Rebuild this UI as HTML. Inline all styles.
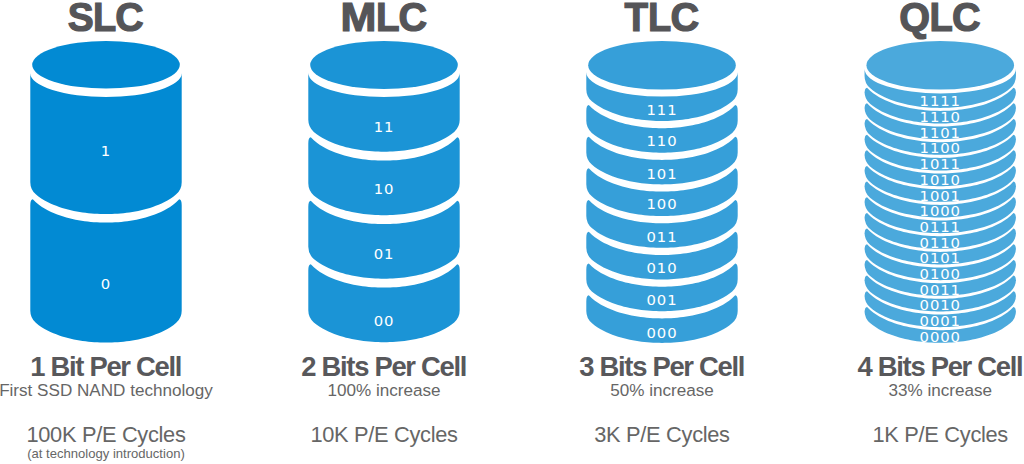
<!DOCTYPE html>
<html><head><meta charset="utf-8"><style>
html,body{margin:0;padding:0;background:#fff;}
body{width:1024px;height:464px;overflow:hidden;position:relative;}
svg{position:absolute;left:0;top:0;}
.bits{font-family:"DejaVu Sans",sans-serif;font-size:14.8px;fill:#fff;text-anchor:middle;letter-spacing:0.9px;}
.t{font-family:"Liberation Sans",Arial,sans-serif;font-weight:bold;font-size:40px;fill:#555558;stroke:#555558;stroke-width:1.2px;}
.l1{font-family:"Liberation Sans",Arial,sans-serif;font-weight:bold;font-size:27.4px;fill:#58585b;text-anchor:middle;letter-spacing:-1.3px;}
.l2{font-family:"Liberation Sans",Arial,sans-serif;font-size:17.1px;fill:#666;text-anchor:middle;}
.l3{font-family:"Liberation Sans",Arial,sans-serif;font-size:21.8px;fill:#666;text-anchor:middle;letter-spacing:-0.3px;}
.l4{font-family:"Liberation Sans",Arial,sans-serif;font-size:13.07px;fill:#666;text-anchor:middle;}
</style></head><body>
<svg width="1024" height="464" viewBox="0 0 1024 464">
<g fill="#028ad3"><path d="M30.3,73.2 A75.7,23.8 0 0 0 181.7,73.2 L181.7,182.26 Q181.7,189.54 176.2,194.32 L173.28,196.66 L170.35,198.68 L167.43,200.45 L164.5,202.02 L161.57,203.43 L158.65,204.71 L155.72,205.87 L152.8,206.92 L149.88,207.88 L146.95,208.74 L144.03,209.53 L141.1,210.25 L138.18,210.89 L135.25,211.47 L132.32,211.98 L129.4,212.44 L126.47,212.83 L123.55,213.17 L120.62,213.46 L117.7,213.69 L114.78,213.87 L111.85,214 L108.92,214.07 L106,214.1 L103.08,214.07 L100.15,214 L97.22,213.87 L94.3,213.69 L91.38,213.46 L88.45,213.17 L85.52,212.83 L82.6,212.44 L79.68,211.98 L76.75,211.47 L73.83,210.89 L70.9,210.25 L67.97,209.53 L65.05,208.74 L62.12,207.88 L59.2,206.92 L56.27,205.87 L53.35,204.71 L50.43,203.43 L47.5,202.02 L44.58,200.45 L41.65,198.68 L38.73,196.66 L35.8,194.32 Q30.3,189.54 30.3,182.26 Z"/><path d="M30.3,205.33 Q30.3,199.33 32.8,199.33 L35.85,202.35 L38.9,204.84 L41.95,206.97 L45,208.83 L48.05,210.49 L51.1,211.97 L54.15,213.3 L57.2,214.5 L60.25,215.59 L63.3,216.58 L66.35,217.47 L69.4,218.28 L72.45,219 L75.5,219.65 L78.55,220.23 L81.6,220.74 L84.65,221.19 L87.7,221.57 L90.75,221.88 L93.8,222.14 L96.85,222.34 L99.9,222.49 L102.95,222.57 L106,222.6 L109.05,222.57 L112.1,222.49 L115.15,222.34 L118.2,222.14 L121.25,221.88 L124.3,221.57 L127.35,221.19 L130.4,220.74 L133.45,220.23 L136.5,219.65 L139.55,219 L142.6,218.28 L145.65,217.47 L148.7,216.58 L151.75,215.59 L154.8,214.5 L157.85,213.3 L160.9,211.97 L163.95,210.49 L167,208.83 L170.05,206.97 L173.1,204.84 L176.15,202.35 L179.2,199.33 Q181.7,199.33 181.7,205.33 L181.7,310.76 Q181.7,318.04 176.2,322.82 L173.28,325.16 L170.35,327.18 L167.43,328.95 L164.5,330.52 L161.57,331.93 L158.65,333.21 L155.72,334.37 L152.8,335.42 L149.88,336.38 L146.95,337.24 L144.03,338.03 L141.1,338.75 L138.18,339.39 L135.25,339.97 L132.32,340.48 L129.4,340.94 L126.47,341.33 L123.55,341.67 L120.62,341.96 L117.7,342.19 L114.78,342.37 L111.85,342.5 L108.92,342.57 L106,342.6 L103.08,342.57 L100.15,342.5 L97.22,342.37 L94.3,342.19 L91.38,341.96 L88.45,341.67 L85.52,341.33 L82.6,340.94 L79.68,340.48 L76.75,339.97 L73.83,339.39 L70.9,338.75 L67.97,338.03 L65.05,337.24 L62.12,336.38 L59.2,335.42 L56.27,334.37 L53.35,333.21 L50.43,331.93 L47.5,330.52 L44.58,328.95 L41.65,327.18 L38.73,325.16 L35.8,322.82 Q30.3,318.04 30.3,310.76 Z"/><ellipse cx="106" cy="64.8" rx="73.8" ry="23.8"/></g>
<g class="bits"><text x="106" y="156.05">1</text><text x="106" y="289.25">0</text></g>
<g fill="#1b94d6"><path d="M308.3,73.1 A75.7,24 0 0 0 459.7,73.1 L459.7,119.86 Q459.7,127.14 454.2,131.92 L451.27,134.26 L448.35,136.28 L445.43,138.05 L442.5,139.62 L439.57,141.03 L436.65,142.31 L433.73,143.47 L430.8,144.52 L427.88,145.48 L424.95,146.34 L422.02,147.13 L419.1,147.85 L416.18,148.49 L413.25,149.07 L410.32,149.58 L407.4,150.04 L404.48,150.43 L401.55,150.77 L398.62,151.06 L395.7,151.29 L392.77,151.47 L389.85,151.6 L386.93,151.67 L384,151.7 L381.07,151.67 L378.15,151.6 L375.23,151.47 L372.3,151.29 L369.38,151.06 L366.45,150.77 L363.52,150.43 L360.6,150.04 L357.68,149.58 L354.75,149.07 L351.82,148.49 L348.9,147.85 L345.98,147.13 L343.05,146.34 L340.12,145.48 L337.2,144.52 L334.27,143.47 L331.35,142.31 L328.43,141.03 L325.5,139.62 L322.57,138.05 L319.65,136.28 L316.73,134.26 L313.8,131.92 Q308.3,127.14 308.3,119.86 Z"/><path d="M308.3,143.33 Q308.3,137.33 310.8,137.33 L313.85,140.35 L316.9,142.84 L319.95,144.97 L323,146.83 L326.05,148.49 L329.1,149.97 L332.15,151.3 L335.2,152.5 L338.25,153.59 L341.3,154.58 L344.35,155.47 L347.4,156.28 L350.45,157 L353.5,157.65 L356.55,158.23 L359.6,158.74 L362.65,159.19 L365.7,159.57 L368.75,159.88 L371.8,160.14 L374.85,160.34 L377.9,160.49 L380.95,160.57 L384,160.6 L387.05,160.57 L390.1,160.49 L393.15,160.34 L396.2,160.14 L399.25,159.88 L402.3,159.57 L405.35,159.19 L408.4,158.74 L411.45,158.23 L414.5,157.65 L417.55,157 L420.6,156.28 L423.65,155.47 L426.7,154.58 L429.75,153.59 L432.8,152.5 L435.85,151.3 L438.9,149.97 L441.95,148.49 L445,146.83 L448.05,144.97 L451.1,142.84 L454.15,140.35 L457.2,137.33 Q459.7,137.33 459.7,143.33 L459.7,183.36 Q459.7,190.64 454.2,195.42 L451.27,197.76 L448.35,199.78 L445.43,201.55 L442.5,203.12 L439.57,204.53 L436.65,205.81 L433.73,206.97 L430.8,208.02 L427.88,208.98 L424.95,209.84 L422.02,210.63 L419.1,211.35 L416.18,211.99 L413.25,212.57 L410.32,213.08 L407.4,213.54 L404.48,213.93 L401.55,214.27 L398.62,214.56 L395.7,214.79 L392.77,214.97 L389.85,215.1 L386.93,215.17 L384,215.2 L381.07,215.17 L378.15,215.1 L375.23,214.97 L372.3,214.79 L369.38,214.56 L366.45,214.27 L363.52,213.93 L360.6,213.54 L357.68,213.08 L354.75,212.57 L351.82,211.99 L348.9,211.35 L345.98,210.63 L343.05,209.84 L340.12,208.98 L337.2,208.02 L334.27,206.97 L331.35,205.81 L328.43,204.53 L325.5,203.12 L322.57,201.55 L319.65,199.78 L316.73,197.76 L313.8,195.42 Q308.3,190.64 308.3,183.36 Z"/><path d="M308.3,206.83 Q308.3,200.83 310.8,200.83 L313.85,203.85 L316.9,206.34 L319.95,208.47 L323,210.33 L326.05,211.99 L329.1,213.47 L332.15,214.8 L335.2,216 L338.25,217.09 L341.3,218.08 L344.35,218.97 L347.4,219.78 L350.45,220.5 L353.5,221.15 L356.55,221.73 L359.6,222.24 L362.65,222.69 L365.7,223.07 L368.75,223.38 L371.8,223.64 L374.85,223.84 L377.9,223.99 L380.95,224.07 L384,224.1 L387.05,224.07 L390.1,223.99 L393.15,223.84 L396.2,223.64 L399.25,223.38 L402.3,223.07 L405.35,222.69 L408.4,222.24 L411.45,221.73 L414.5,221.15 L417.55,220.5 L420.6,219.78 L423.65,218.97 L426.7,218.08 L429.75,217.09 L432.8,216 L435.85,214.8 L438.9,213.47 L441.95,211.99 L445,210.33 L448.05,208.47 L451.1,206.34 L454.15,203.85 L457.2,200.83 Q459.7,200.83 459.7,206.83 L459.7,246.86 Q459.7,254.14 454.2,258.92 L451.27,261.26 L448.35,263.28 L445.43,265.05 L442.5,266.62 L439.57,268.03 L436.65,269.31 L433.73,270.47 L430.8,271.52 L427.88,272.48 L424.95,273.34 L422.02,274.13 L419.1,274.85 L416.18,275.49 L413.25,276.07 L410.32,276.58 L407.4,277.04 L404.48,277.43 L401.55,277.77 L398.62,278.06 L395.7,278.29 L392.77,278.47 L389.85,278.6 L386.93,278.67 L384,278.7 L381.07,278.67 L378.15,278.6 L375.23,278.47 L372.3,278.29 L369.38,278.06 L366.45,277.77 L363.52,277.43 L360.6,277.04 L357.68,276.58 L354.75,276.07 L351.82,275.49 L348.9,274.85 L345.98,274.13 L343.05,273.34 L340.12,272.48 L337.2,271.52 L334.27,270.47 L331.35,269.31 L328.43,268.03 L325.5,266.62 L322.57,265.05 L319.65,263.28 L316.73,261.26 L313.8,258.92 Q308.3,254.14 308.3,246.86 Z"/><path d="M308.3,270.33 Q308.3,264.33 310.8,264.33 L313.85,267.35 L316.9,269.84 L319.95,271.97 L323,273.83 L326.05,275.49 L329.1,276.97 L332.15,278.3 L335.2,279.5 L338.25,280.59 L341.3,281.58 L344.35,282.47 L347.4,283.28 L350.45,284 L353.5,284.65 L356.55,285.23 L359.6,285.74 L362.65,286.19 L365.7,286.57 L368.75,286.88 L371.8,287.14 L374.85,287.34 L377.9,287.49 L380.95,287.57 L384,287.6 L387.05,287.57 L390.1,287.49 L393.15,287.34 L396.2,287.14 L399.25,286.88 L402.3,286.57 L405.35,286.19 L408.4,285.74 L411.45,285.23 L414.5,284.65 L417.55,284 L420.6,283.28 L423.65,282.47 L426.7,281.58 L429.75,280.59 L432.8,279.5 L435.85,278.3 L438.9,276.97 L441.95,275.49 L445,273.83 L448.05,271.97 L451.1,269.84 L454.15,267.35 L457.2,264.33 Q459.7,264.33 459.7,270.33 L459.7,310.36 Q459.7,317.64 454.2,322.42 L451.27,324.76 L448.35,326.78 L445.43,328.55 L442.5,330.12 L439.57,331.53 L436.65,332.81 L433.73,333.97 L430.8,335.02 L427.88,335.98 L424.95,336.84 L422.02,337.63 L419.1,338.35 L416.18,338.99 L413.25,339.57 L410.32,340.08 L407.4,340.54 L404.48,340.93 L401.55,341.27 L398.62,341.56 L395.7,341.79 L392.77,341.97 L389.85,342.1 L386.93,342.17 L384,342.2 L381.07,342.17 L378.15,342.1 L375.23,341.97 L372.3,341.79 L369.38,341.56 L366.45,341.27 L363.52,340.93 L360.6,340.54 L357.68,340.08 L354.75,339.57 L351.82,338.99 L348.9,338.35 L345.98,337.63 L343.05,336.84 L340.12,335.98 L337.2,335.02 L334.27,333.97 L331.35,332.81 L328.43,331.53 L325.5,330.12 L322.57,328.55 L319.65,326.78 L316.73,324.76 L313.8,322.42 Q308.3,317.64 308.3,310.36 Z"/><ellipse cx="384" cy="65" rx="73.8" ry="24"/></g>
<g class="bits"><text x="384" y="131.85">11</text><text x="384" y="194.25">10</text><text x="384" y="258.55">01</text><text x="384" y="325.55">00</text></g>
<g fill="#369fd9"><path d="M586.3,72.25 A75.7,24.25 0 0 0 737.7,72.25 L737.7,89.16 Q737.7,96.44 732.2,101.22 L729.27,103.56 L726.35,105.58 L723.42,107.35 L720.5,108.92 L717.58,110.33 L714.65,111.61 L711.73,112.77 L708.8,113.82 L705.88,114.78 L702.95,115.64 L700.02,116.43 L697.1,117.15 L694.17,117.79 L691.25,118.37 L688.33,118.88 L685.4,119.34 L682.48,119.73 L679.55,120.07 L676.62,120.36 L673.7,120.59 L670.77,120.77 L667.85,120.9 L664.92,120.97 L662,121 L659.08,120.97 L656.15,120.9 L653.23,120.77 L650.3,120.59 L647.38,120.36 L644.45,120.07 L641.52,119.73 L638.6,119.34 L635.67,118.88 L632.75,118.37 L629.83,117.79 L626.9,117.15 L623.98,116.43 L621.05,115.64 L618.12,114.78 L615.2,113.82 L612.27,112.77 L609.35,111.61 L606.42,110.33 L603.5,108.92 L600.58,107.35 L597.65,105.58 L594.73,103.56 L591.8,101.22 Q586.3,96.44 586.3,89.16 Z"/><path d="M586.3,110.93 Q586.3,104.93 588.8,104.93 L591.85,107.95 L594.9,110.44 L597.95,112.57 L601,114.43 L604.05,116.09 L607.1,117.57 L610.15,118.9 L613.2,120.1 L616.25,121.19 L619.3,122.18 L622.35,123.07 L625.4,123.88 L628.45,124.6 L631.5,125.25 L634.55,125.83 L637.6,126.34 L640.65,126.79 L643.7,127.17 L646.75,127.48 L649.8,127.74 L652.85,127.94 L655.9,128.09 L658.95,128.17 L662,128.2 L665.05,128.17 L668.1,128.09 L671.15,127.94 L674.2,127.74 L677.25,127.48 L680.3,127.17 L683.35,126.79 L686.4,126.34 L689.45,125.83 L692.5,125.25 L695.55,124.6 L698.6,123.88 L701.65,123.07 L704.7,122.18 L707.75,121.19 L710.8,120.1 L713.85,118.9 L716.9,117.57 L719.95,116.09 L723,114.43 L726.05,112.57 L729.1,110.44 L732.15,107.95 L735.2,104.93 Q737.7,104.93 737.7,110.93 L737.7,120.86 Q737.7,128.14 732.2,132.92 L729.27,135.26 L726.35,137.28 L723.42,139.05 L720.5,140.62 L717.58,142.03 L714.65,143.31 L711.73,144.47 L708.8,145.52 L705.88,146.48 L702.95,147.34 L700.02,148.13 L697.1,148.85 L694.17,149.49 L691.25,150.07 L688.33,150.58 L685.4,151.04 L682.48,151.43 L679.55,151.77 L676.62,152.06 L673.7,152.29 L670.77,152.47 L667.85,152.6 L664.92,152.67 L662,152.7 L659.08,152.67 L656.15,152.6 L653.23,152.47 L650.3,152.29 L647.38,152.06 L644.45,151.77 L641.52,151.43 L638.6,151.04 L635.67,150.58 L632.75,150.07 L629.83,149.49 L626.9,148.85 L623.98,148.13 L621.05,147.34 L618.12,146.48 L615.2,145.52 L612.27,144.47 L609.35,143.31 L606.42,142.03 L603.5,140.62 L600.58,139.05 L597.65,137.28 L594.73,135.26 L591.8,132.92 Q586.3,128.14 586.3,120.86 Z"/><path d="M586.3,142.63 Q586.3,136.63 588.8,136.63 L591.85,139.65 L594.9,142.14 L597.95,144.27 L601,146.13 L604.05,147.79 L607.1,149.27 L610.15,150.6 L613.2,151.8 L616.25,152.89 L619.3,153.88 L622.35,154.77 L625.4,155.58 L628.45,156.3 L631.5,156.95 L634.55,157.53 L637.6,158.04 L640.65,158.49 L643.7,158.87 L646.75,159.18 L649.8,159.44 L652.85,159.64 L655.9,159.79 L658.95,159.87 L662,159.9 L665.05,159.87 L668.1,159.79 L671.15,159.64 L674.2,159.44 L677.25,159.18 L680.3,158.87 L683.35,158.49 L686.4,158.04 L689.45,157.53 L692.5,156.95 L695.55,156.3 L698.6,155.58 L701.65,154.77 L704.7,153.88 L707.75,152.89 L710.8,151.8 L713.85,150.6 L716.9,149.27 L719.95,147.79 L723,146.13 L726.05,144.27 L729.1,142.14 L732.15,139.65 L735.2,136.63 Q737.7,136.63 737.7,142.63 L737.7,152.56 Q737.7,159.84 732.2,164.62 L729.27,166.96 L726.35,168.98 L723.42,170.75 L720.5,172.32 L717.58,173.73 L714.65,175.01 L711.73,176.17 L708.8,177.22 L705.88,178.18 L702.95,179.04 L700.02,179.83 L697.1,180.55 L694.17,181.19 L691.25,181.77 L688.33,182.28 L685.4,182.74 L682.48,183.13 L679.55,183.47 L676.62,183.76 L673.7,183.99 L670.77,184.17 L667.85,184.3 L664.92,184.37 L662,184.4 L659.08,184.37 L656.15,184.3 L653.23,184.17 L650.3,183.99 L647.38,183.76 L644.45,183.47 L641.52,183.13 L638.6,182.74 L635.67,182.28 L632.75,181.77 L629.83,181.19 L626.9,180.55 L623.98,179.83 L621.05,179.04 L618.12,178.18 L615.2,177.22 L612.27,176.17 L609.35,175.01 L606.42,173.73 L603.5,172.32 L600.58,170.75 L597.65,168.98 L594.73,166.96 L591.8,164.62 Q586.3,159.84 586.3,152.56 Z"/><path d="M586.3,174.33 Q586.3,168.33 588.8,168.33 L591.85,171.35 L594.9,173.84 L597.95,175.97 L601,177.83 L604.05,179.49 L607.1,180.97 L610.15,182.3 L613.2,183.5 L616.25,184.59 L619.3,185.58 L622.35,186.47 L625.4,187.28 L628.45,188 L631.5,188.65 L634.55,189.23 L637.6,189.74 L640.65,190.19 L643.7,190.57 L646.75,190.88 L649.8,191.14 L652.85,191.34 L655.9,191.49 L658.95,191.57 L662,191.6 L665.05,191.57 L668.1,191.49 L671.15,191.34 L674.2,191.14 L677.25,190.88 L680.3,190.57 L683.35,190.19 L686.4,189.74 L689.45,189.23 L692.5,188.65 L695.55,188 L698.6,187.28 L701.65,186.47 L704.7,185.58 L707.75,184.59 L710.8,183.5 L713.85,182.3 L716.9,180.97 L719.95,179.49 L723,177.83 L726.05,175.97 L729.1,173.84 L732.15,171.35 L735.2,168.33 Q737.7,168.33 737.7,174.33 L737.7,184.26 Q737.7,191.54 732.2,196.32 L729.27,198.66 L726.35,200.68 L723.42,202.45 L720.5,204.02 L717.58,205.43 L714.65,206.71 L711.73,207.87 L708.8,208.92 L705.88,209.88 L702.95,210.74 L700.02,211.53 L697.1,212.25 L694.17,212.89 L691.25,213.47 L688.33,213.98 L685.4,214.44 L682.48,214.83 L679.55,215.17 L676.62,215.46 L673.7,215.69 L670.77,215.87 L667.85,216 L664.92,216.07 L662,216.1 L659.08,216.07 L656.15,216 L653.23,215.87 L650.3,215.69 L647.38,215.46 L644.45,215.17 L641.52,214.83 L638.6,214.44 L635.67,213.98 L632.75,213.47 L629.83,212.89 L626.9,212.25 L623.98,211.53 L621.05,210.74 L618.12,209.88 L615.2,208.92 L612.27,207.87 L609.35,206.71 L606.42,205.43 L603.5,204.02 L600.58,202.45 L597.65,200.68 L594.73,198.66 L591.8,196.32 Q586.3,191.54 586.3,184.26 Z"/><path d="M586.3,206.03 Q586.3,200.03 588.8,200.03 L591.85,203.05 L594.9,205.54 L597.95,207.67 L601,209.53 L604.05,211.19 L607.1,212.67 L610.15,214 L613.2,215.2 L616.25,216.29 L619.3,217.28 L622.35,218.17 L625.4,218.98 L628.45,219.7 L631.5,220.35 L634.55,220.93 L637.6,221.44 L640.65,221.89 L643.7,222.27 L646.75,222.58 L649.8,222.84 L652.85,223.04 L655.9,223.19 L658.95,223.27 L662,223.3 L665.05,223.27 L668.1,223.19 L671.15,223.04 L674.2,222.84 L677.25,222.58 L680.3,222.27 L683.35,221.89 L686.4,221.44 L689.45,220.93 L692.5,220.35 L695.55,219.7 L698.6,218.98 L701.65,218.17 L704.7,217.28 L707.75,216.29 L710.8,215.2 L713.85,214 L716.9,212.67 L719.95,211.19 L723,209.53 L726.05,207.67 L729.1,205.54 L732.15,203.05 L735.2,200.03 Q737.7,200.03 737.7,206.03 L737.7,215.96 Q737.7,223.24 732.2,228.02 L729.27,230.36 L726.35,232.38 L723.42,234.15 L720.5,235.72 L717.58,237.13 L714.65,238.41 L711.73,239.57 L708.8,240.62 L705.88,241.58 L702.95,242.44 L700.02,243.23 L697.1,243.95 L694.17,244.59 L691.25,245.17 L688.33,245.68 L685.4,246.14 L682.48,246.53 L679.55,246.87 L676.62,247.16 L673.7,247.39 L670.77,247.57 L667.85,247.7 L664.92,247.77 L662,247.8 L659.08,247.77 L656.15,247.7 L653.23,247.57 L650.3,247.39 L647.38,247.16 L644.45,246.87 L641.52,246.53 L638.6,246.14 L635.67,245.68 L632.75,245.17 L629.83,244.59 L626.9,243.95 L623.98,243.23 L621.05,242.44 L618.12,241.58 L615.2,240.62 L612.27,239.57 L609.35,238.41 L606.42,237.13 L603.5,235.72 L600.58,234.15 L597.65,232.38 L594.73,230.36 L591.8,228.02 Q586.3,223.24 586.3,215.96 Z"/><path d="M586.3,237.73 Q586.3,231.73 588.8,231.73 L591.85,234.75 L594.9,237.24 L597.95,239.37 L601,241.23 L604.05,242.89 L607.1,244.37 L610.15,245.7 L613.2,246.9 L616.25,247.99 L619.3,248.98 L622.35,249.87 L625.4,250.68 L628.45,251.4 L631.5,252.05 L634.55,252.63 L637.6,253.14 L640.65,253.59 L643.7,253.97 L646.75,254.28 L649.8,254.54 L652.85,254.74 L655.9,254.89 L658.95,254.97 L662,255 L665.05,254.97 L668.1,254.89 L671.15,254.74 L674.2,254.54 L677.25,254.28 L680.3,253.97 L683.35,253.59 L686.4,253.14 L689.45,252.63 L692.5,252.05 L695.55,251.4 L698.6,250.68 L701.65,249.87 L704.7,248.98 L707.75,247.99 L710.8,246.9 L713.85,245.7 L716.9,244.37 L719.95,242.89 L723,241.23 L726.05,239.37 L729.1,237.24 L732.15,234.75 L735.2,231.73 Q737.7,231.73 737.7,237.73 L737.7,247.66 Q737.7,254.94 732.2,259.72 L729.27,262.06 L726.35,264.08 L723.42,265.85 L720.5,267.42 L717.58,268.83 L714.65,270.11 L711.73,271.27 L708.8,272.32 L705.88,273.28 L702.95,274.14 L700.02,274.93 L697.1,275.65 L694.17,276.29 L691.25,276.87 L688.33,277.38 L685.4,277.84 L682.48,278.23 L679.55,278.57 L676.62,278.86 L673.7,279.09 L670.77,279.27 L667.85,279.4 L664.92,279.47 L662,279.5 L659.08,279.47 L656.15,279.4 L653.23,279.27 L650.3,279.09 L647.38,278.86 L644.45,278.57 L641.52,278.23 L638.6,277.84 L635.67,277.38 L632.75,276.87 L629.83,276.29 L626.9,275.65 L623.98,274.93 L621.05,274.14 L618.12,273.28 L615.2,272.32 L612.27,271.27 L609.35,270.11 L606.42,268.83 L603.5,267.42 L600.58,265.85 L597.65,264.08 L594.73,262.06 L591.8,259.72 Q586.3,254.94 586.3,247.66 Z"/><path d="M586.3,269.43 Q586.3,263.43 588.8,263.43 L591.85,266.45 L594.9,268.94 L597.95,271.07 L601,272.93 L604.05,274.59 L607.1,276.07 L610.15,277.4 L613.2,278.6 L616.25,279.69 L619.3,280.68 L622.35,281.57 L625.4,282.38 L628.45,283.1 L631.5,283.75 L634.55,284.33 L637.6,284.84 L640.65,285.29 L643.7,285.67 L646.75,285.98 L649.8,286.24 L652.85,286.44 L655.9,286.59 L658.95,286.67 L662,286.7 L665.05,286.67 L668.1,286.59 L671.15,286.44 L674.2,286.24 L677.25,285.98 L680.3,285.67 L683.35,285.29 L686.4,284.84 L689.45,284.33 L692.5,283.75 L695.55,283.1 L698.6,282.38 L701.65,281.57 L704.7,280.68 L707.75,279.69 L710.8,278.6 L713.85,277.4 L716.9,276.07 L719.95,274.59 L723,272.93 L726.05,271.07 L729.1,268.94 L732.15,266.45 L735.2,263.43 Q737.7,263.43 737.7,269.43 L737.7,279.36 Q737.7,286.64 732.2,291.42 L729.27,293.76 L726.35,295.78 L723.42,297.55 L720.5,299.12 L717.58,300.53 L714.65,301.81 L711.73,302.97 L708.8,304.02 L705.88,304.98 L702.95,305.84 L700.02,306.63 L697.1,307.35 L694.17,307.99 L691.25,308.57 L688.33,309.08 L685.4,309.54 L682.48,309.93 L679.55,310.27 L676.62,310.56 L673.7,310.79 L670.77,310.97 L667.85,311.1 L664.92,311.17 L662,311.2 L659.08,311.17 L656.15,311.1 L653.23,310.97 L650.3,310.79 L647.38,310.56 L644.45,310.27 L641.52,309.93 L638.6,309.54 L635.67,309.08 L632.75,308.57 L629.83,307.99 L626.9,307.35 L623.98,306.63 L621.05,305.84 L618.12,304.98 L615.2,304.02 L612.27,302.97 L609.35,301.81 L606.42,300.53 L603.5,299.12 L600.58,297.55 L597.65,295.78 L594.73,293.76 L591.8,291.42 Q586.3,286.64 586.3,279.36 Z"/><path d="M586.3,301.13 Q586.3,295.13 588.8,295.13 L591.85,298.15 L594.9,300.64 L597.95,302.77 L601,304.63 L604.05,306.29 L607.1,307.77 L610.15,309.1 L613.2,310.3 L616.25,311.39 L619.3,312.38 L622.35,313.27 L625.4,314.08 L628.45,314.8 L631.5,315.45 L634.55,316.03 L637.6,316.54 L640.65,316.99 L643.7,317.37 L646.75,317.68 L649.8,317.94 L652.85,318.14 L655.9,318.29 L658.95,318.37 L662,318.4 L665.05,318.37 L668.1,318.29 L671.15,318.14 L674.2,317.94 L677.25,317.68 L680.3,317.37 L683.35,316.99 L686.4,316.54 L689.45,316.03 L692.5,315.45 L695.55,314.8 L698.6,314.08 L701.65,313.27 L704.7,312.38 L707.75,311.39 L710.8,310.3 L713.85,309.1 L716.9,307.77 L719.95,306.29 L723,304.63 L726.05,302.77 L729.1,300.64 L732.15,298.15 L735.2,295.13 Q737.7,295.13 737.7,301.13 L737.7,311.06 Q737.7,318.34 732.2,323.12 L729.27,325.46 L726.35,327.48 L723.42,329.25 L720.5,330.82 L717.58,332.23 L714.65,333.51 L711.73,334.67 L708.8,335.72 L705.88,336.68 L702.95,337.54 L700.02,338.33 L697.1,339.05 L694.17,339.69 L691.25,340.27 L688.33,340.78 L685.4,341.24 L682.48,341.63 L679.55,341.97 L676.62,342.26 L673.7,342.49 L670.77,342.67 L667.85,342.8 L664.92,342.87 L662,342.9 L659.08,342.87 L656.15,342.8 L653.23,342.67 L650.3,342.49 L647.38,342.26 L644.45,341.97 L641.52,341.63 L638.6,341.24 L635.67,340.78 L632.75,340.27 L629.83,339.69 L626.9,339.05 L623.98,338.33 L621.05,337.54 L618.12,336.68 L615.2,335.72 L612.27,334.67 L609.35,333.51 L606.42,332.23 L603.5,330.82 L600.58,329.25 L597.65,327.48 L594.73,325.46 L591.8,323.12 Q586.3,318.34 586.3,311.06 Z"/><ellipse cx="662" cy="65.25" rx="73.8" ry="24.25"/></g>
<g class="bits"><text x="662" y="114.85">111</text><text x="662" y="146.45">110</text><text x="662" y="178.55">101</text><text x="662" y="208.85">100</text><text x="662" y="241.75">011</text><text x="662" y="273.05">010</text><text x="662" y="305.15">001</text><text x="662" y="338.15">000</text></g>
<g fill="#4ba9dc"><path d="M864.55,69.1 A75.7,24.3 0 0 0 1015.95,69.1 L1015.95,76.06 Q1015.95,83.34 1010.45,88.12 L1007.52,90.46 L1004.6,92.48 L1001.67,94.25 L998.75,95.82 L995.83,97.23 L992.9,98.51 L989.98,99.67 L987.05,100.72 L984.12,101.68 L981.2,102.54 L978.27,103.33 L975.35,104.05 L972.42,104.69 L969.5,105.27 L966.58,105.78 L963.65,106.24 L960.73,106.63 L957.8,106.97 L954.88,107.26 L951.95,107.49 L949.02,107.67 L946.1,107.8 L943.17,107.87 L940.25,107.9 L937.33,107.87 L934.4,107.8 L931.48,107.67 L928.55,107.49 L925.62,107.26 L922.7,106.97 L919.77,106.63 L916.85,106.24 L913.92,105.78 L911,105.27 L908.08,104.69 L905.15,104.05 L902.23,103.33 L899.3,102.54 L896.38,101.68 L893.45,100.72 L890.52,99.67 L887.6,98.51 L884.67,97.23 L881.75,95.82 L878.83,94.25 L875.9,92.48 L872.98,90.46 L870.05,88.12 Q864.55,83.34 864.55,76.06 Z"/><path d="M864.55,93.63 Q864.55,87.63 867.05,87.63 L870.1,90.65 L873.15,93.14 L876.2,95.27 L879.25,97.13 L882.3,98.79 L885.35,100.27 L888.4,101.6 L891.45,102.8 L894.5,103.89 L897.55,104.88 L900.6,105.77 L903.65,106.58 L906.7,107.3 L909.75,107.95 L912.8,108.53 L915.85,109.04 L918.9,109.49 L921.95,109.87 L925,110.18 L928.05,110.44 L931.1,110.64 L934.15,110.79 L937.2,110.87 L940.25,110.9 L943.3,110.87 L946.35,110.79 L949.4,110.64 L952.45,110.44 L955.5,110.18 L958.55,109.87 L961.6,109.49 L964.65,109.04 L967.7,108.53 L970.75,107.95 L973.8,107.3 L976.85,106.58 L979.9,105.77 L982.95,104.88 L986,103.89 L989.05,102.8 L992.1,101.6 L995.15,100.27 L998.2,98.79 L1001.25,97.13 L1004.3,95.27 L1007.35,93.14 L1010.4,90.65 L1013.45,87.63 Q1015.95,87.63 1015.95,93.63 L1015.95,91.66 Q1015.95,98.94 1010.45,103.72 L1007.52,106.06 L1004.6,108.08 L1001.67,109.85 L998.75,111.42 L995.83,112.83 L992.9,114.11 L989.98,115.27 L987.05,116.32 L984.12,117.28 L981.2,118.14 L978.27,118.93 L975.35,119.65 L972.42,120.29 L969.5,120.87 L966.58,121.38 L963.65,121.84 L960.73,122.23 L957.8,122.57 L954.88,122.86 L951.95,123.09 L949.02,123.27 L946.1,123.4 L943.17,123.47 L940.25,123.5 L937.33,123.47 L934.4,123.4 L931.48,123.27 L928.55,123.09 L925.62,122.86 L922.7,122.57 L919.77,122.23 L916.85,121.84 L913.92,121.38 L911,120.87 L908.08,120.29 L905.15,119.65 L902.23,118.93 L899.3,118.14 L896.38,117.28 L893.45,116.32 L890.52,115.27 L887.6,114.11 L884.67,112.83 L881.75,111.42 L878.83,109.85 L875.9,108.08 L872.98,106.06 L870.05,103.72 Q864.55,98.94 864.55,91.66 Z"/><path d="M864.55,109.3 Q864.55,103.3 867.05,103.3 L870.1,106.31 L873.15,108.8 L876.2,110.93 L879.25,112.8 L882.3,114.45 L885.35,115.93 L888.4,117.26 L891.45,118.47 L894.5,119.56 L897.55,120.54 L900.6,121.44 L903.65,122.24 L906.7,122.97 L909.75,123.62 L912.8,124.2 L915.85,124.71 L918.9,125.15 L921.95,125.53 L925,125.85 L928.05,126.11 L931.1,126.31 L934.15,126.45 L937.2,126.54 L940.25,126.56 L943.3,126.54 L946.35,126.45 L949.4,126.31 L952.45,126.11 L955.5,125.85 L958.55,125.53 L961.6,125.15 L964.65,124.71 L967.7,124.2 L970.75,123.62 L973.8,122.97 L976.85,122.24 L979.9,121.44 L982.95,120.54 L986,119.56 L989.05,118.47 L992.1,117.26 L995.15,115.93 L998.2,114.45 L1001.25,112.8 L1004.3,110.93 L1007.35,108.8 L1010.4,106.31 L1013.45,103.3 Q1015.95,103.3 1015.95,109.3 L1015.95,107.32 Q1015.95,114.61 1010.45,119.39 L1007.52,121.73 L1004.6,123.74 L1001.67,125.51 L998.75,127.08 L995.83,128.5 L992.9,129.77 L989.98,130.93 L987.05,131.98 L984.12,132.94 L981.2,133.81 L978.27,134.6 L975.35,135.31 L972.42,135.96 L969.5,136.53 L966.58,137.05 L963.65,137.5 L960.73,137.9 L957.8,138.24 L954.88,138.52 L951.95,138.76 L949.02,138.93 L946.1,139.06 L943.17,139.14 L940.25,139.16 L937.33,139.14 L934.4,139.06 L931.48,138.93 L928.55,138.76 L925.62,138.52 L922.7,138.24 L919.77,137.9 L916.85,137.5 L913.92,137.05 L911,136.53 L908.08,135.96 L905.15,135.31 L902.23,134.6 L899.3,133.81 L896.38,132.94 L893.45,131.98 L890.52,130.93 L887.6,129.77 L884.67,128.5 L881.75,127.08 L878.83,125.51 L875.9,123.74 L872.98,121.73 L870.05,119.39 Q864.55,114.61 864.55,107.32 Z"/><path d="M864.55,124.96 Q864.55,118.96 867.05,118.96 L870.1,121.98 L873.15,124.46 L876.2,126.6 L879.25,128.46 L882.3,130.11 L885.35,131.6 L888.4,132.93 L891.45,134.13 L894.5,135.22 L897.55,136.21 L900.6,137.1 L903.65,137.91 L906.7,138.63 L909.75,139.28 L912.8,139.86 L915.85,140.37 L918.9,140.81 L921.95,141.19 L925,141.51 L928.05,141.77 L931.1,141.97 L934.15,142.11 L937.2,142.2 L940.25,142.23 L943.3,142.2 L946.35,142.11 L949.4,141.97 L952.45,141.77 L955.5,141.51 L958.55,141.19 L961.6,140.81 L964.65,140.37 L967.7,139.86 L970.75,139.28 L973.8,138.63 L976.85,137.91 L979.9,137.1 L982.95,136.21 L986,135.22 L989.05,134.13 L992.1,132.93 L995.15,131.6 L998.2,130.11 L1001.25,128.46 L1004.3,126.6 L1007.35,124.46 L1010.4,121.98 L1013.45,118.96 Q1015.95,118.96 1015.95,124.96 L1015.95,122.98 Q1015.95,130.27 1010.45,135.05 L1007.52,137.39 L1004.6,139.4 L1001.67,141.17 L998.75,142.75 L995.83,144.16 L992.9,145.44 L989.98,146.6 L987.05,147.65 L984.12,148.6 L981.2,149.47 L978.27,150.26 L975.35,150.98 L972.42,151.62 L969.5,152.2 L966.58,152.71 L963.65,153.17 L960.73,153.56 L957.8,153.9 L954.88,154.19 L951.95,154.42 L949.02,154.6 L946.1,154.73 L943.17,154.8 L940.25,154.83 L937.33,154.8 L934.4,154.73 L931.48,154.6 L928.55,154.42 L925.62,154.19 L922.7,153.9 L919.77,153.56 L916.85,153.17 L913.92,152.71 L911,152.2 L908.08,151.62 L905.15,150.98 L902.23,150.26 L899.3,149.47 L896.38,148.6 L893.45,147.65 L890.52,146.6 L887.6,145.44 L884.67,144.16 L881.75,142.75 L878.83,141.17 L875.9,139.4 L872.98,137.39 L870.05,135.05 Q864.55,130.27 864.55,122.98 Z"/><path d="M864.55,140.63 Q864.55,134.63 867.05,134.63 L870.1,137.64 L873.15,140.13 L876.2,142.26 L879.25,144.12 L882.3,145.78 L885.35,147.26 L888.4,148.59 L891.45,149.8 L894.5,150.89 L897.55,151.87 L900.6,152.76 L903.65,153.57 L906.7,154.3 L909.75,154.95 L912.8,155.52 L915.85,156.03 L918.9,156.48 L921.95,156.86 L925,157.18 L928.05,157.44 L931.1,157.64 L934.15,157.78 L937.2,157.86 L940.25,157.89 L943.3,157.86 L946.35,157.78 L949.4,157.64 L952.45,157.44 L955.5,157.18 L958.55,156.86 L961.6,156.48 L964.65,156.03 L967.7,155.52 L970.75,154.95 L973.8,154.3 L976.85,153.57 L979.9,152.76 L982.95,151.87 L986,150.89 L989.05,149.8 L992.1,148.59 L995.15,147.26 L998.2,145.78 L1001.25,144.12 L1004.3,142.26 L1007.35,140.13 L1010.4,137.64 L1013.45,134.63 Q1015.95,134.63 1015.95,140.63 L1015.95,138.65 Q1015.95,145.94 1010.45,150.72 L1007.52,153.06 L1004.6,155.07 L1001.67,156.84 L998.75,158.41 L995.83,159.83 L992.9,161.1 L989.98,162.26 L987.05,163.31 L984.12,164.27 L981.2,165.14 L978.27,165.93 L975.35,166.64 L972.42,167.28 L969.5,167.86 L966.58,168.38 L963.65,168.83 L960.73,169.23 L957.8,169.57 L954.88,169.85 L951.95,170.08 L949.02,170.26 L946.1,170.39 L943.17,170.47 L940.25,170.49 L937.33,170.47 L934.4,170.39 L931.48,170.26 L928.55,170.08 L925.62,169.85 L922.7,169.57 L919.77,169.23 L916.85,168.83 L913.92,168.38 L911,167.86 L908.08,167.28 L905.15,166.64 L902.23,165.93 L899.3,165.14 L896.38,164.27 L893.45,163.31 L890.52,162.26 L887.6,161.1 L884.67,159.83 L881.75,158.41 L878.83,156.84 L875.9,155.07 L872.98,153.06 L870.05,150.72 Q864.55,145.94 864.55,138.65 Z"/><path d="M864.55,156.29 Q864.55,150.29 867.05,150.29 L870.1,153.3 L873.15,155.79 L876.2,157.92 L879.25,159.79 L882.3,161.44 L885.35,162.92 L888.4,164.26 L891.45,165.46 L894.5,166.55 L897.55,167.54 L900.6,168.43 L903.65,169.24 L906.7,169.96 L909.75,170.61 L912.8,171.19 L915.85,171.7 L918.9,172.14 L921.95,172.52 L925,172.84 L928.05,173.1 L931.1,173.3 L934.15,173.44 L937.2,173.53 L940.25,173.56 L943.3,173.53 L946.35,173.44 L949.4,173.3 L952.45,173.1 L955.5,172.84 L958.55,172.52 L961.6,172.14 L964.65,171.7 L967.7,171.19 L970.75,170.61 L973.8,169.96 L976.85,169.24 L979.9,168.43 L982.95,167.54 L986,166.55 L989.05,165.46 L992.1,164.26 L995.15,162.92 L998.2,161.44 L1001.25,159.79 L1004.3,157.92 L1007.35,155.79 L1010.4,153.3 L1013.45,150.29 Q1015.95,150.29 1015.95,156.29 L1015.95,154.31 Q1015.95,161.6 1010.45,166.38 L1007.52,168.72 L1004.6,170.73 L1001.67,172.5 L998.75,174.08 L995.83,175.49 L992.9,176.77 L989.98,177.92 L987.05,178.98 L984.12,179.93 L981.2,180.8 L978.27,181.59 L975.35,182.3 L972.42,182.95 L969.5,183.52 L966.58,184.04 L963.65,184.49 L960.73,184.89 L957.8,185.23 L954.88,185.52 L951.95,185.75 L949.02,185.93 L946.1,186.05 L943.17,186.13 L940.25,186.16 L937.33,186.13 L934.4,186.05 L931.48,185.93 L928.55,185.75 L925.62,185.52 L922.7,185.23 L919.77,184.89 L916.85,184.49 L913.92,184.04 L911,183.52 L908.08,182.95 L905.15,182.3 L902.23,181.59 L899.3,180.8 L896.38,179.93 L893.45,178.98 L890.52,177.92 L887.6,176.77 L884.67,175.49 L881.75,174.08 L878.83,172.5 L875.9,170.73 L872.98,168.72 L870.05,166.38 Q864.55,161.6 864.55,154.31 Z"/><path d="M864.55,171.95 Q864.55,165.95 867.05,165.95 L870.1,168.97 L873.15,171.46 L876.2,173.59 L879.25,175.45 L882.3,177.11 L885.35,178.59 L888.4,179.92 L891.45,181.12 L894.5,182.21 L897.55,183.2 L900.6,184.09 L903.65,184.9 L906.7,185.62 L909.75,186.27 L912.8,186.85 L915.85,187.36 L918.9,187.81 L921.95,188.19 L925,188.5 L928.05,188.76 L931.1,188.96 L934.15,189.11 L937.2,189.19 L940.25,189.22 L943.3,189.19 L946.35,189.11 L949.4,188.96 L952.45,188.76 L955.5,188.5 L958.55,188.19 L961.6,187.81 L964.65,187.36 L967.7,186.85 L970.75,186.27 L973.8,185.62 L976.85,184.9 L979.9,184.09 L982.95,183.2 L986,182.21 L989.05,181.12 L992.1,179.92 L995.15,178.59 L998.2,177.11 L1001.25,175.45 L1004.3,173.59 L1007.35,171.46 L1010.4,168.97 L1013.45,165.95 Q1015.95,165.95 1015.95,171.95 L1015.95,169.98 Q1015.95,177.26 1010.45,182.04 L1007.52,184.38 L1004.6,186.4 L1001.67,188.17 L998.75,189.74 L995.83,191.15 L992.9,192.43 L989.98,193.59 L987.05,194.64 L984.12,195.6 L981.2,196.46 L978.27,197.25 L975.35,197.97 L972.42,198.61 L969.5,199.19 L966.58,199.7 L963.65,200.16 L960.73,200.55 L957.8,200.89 L954.88,201.18 L951.95,201.41 L949.02,201.59 L946.1,201.72 L943.17,201.79 L940.25,201.82 L937.33,201.79 L934.4,201.72 L931.48,201.59 L928.55,201.41 L925.62,201.18 L922.7,200.89 L919.77,200.55 L916.85,200.16 L913.92,199.7 L911,199.19 L908.08,198.61 L905.15,197.97 L902.23,197.25 L899.3,196.46 L896.38,195.6 L893.45,194.64 L890.52,193.59 L887.6,192.43 L884.67,191.15 L881.75,189.74 L878.83,188.17 L875.9,186.4 L872.98,184.38 L870.05,182.04 Q864.55,177.26 864.55,169.98 Z"/><path d="M864.55,187.62 Q864.55,181.62 867.05,181.62 L870.1,184.63 L873.15,187.12 L876.2,189.25 L879.25,191.12 L882.3,192.77 L885.35,194.25 L888.4,195.58 L891.45,196.79 L894.5,197.88 L897.55,198.86 L900.6,199.76 L903.65,200.56 L906.7,201.29 L909.75,201.94 L912.8,202.52 L915.85,203.03 L918.9,203.47 L921.95,203.85 L925,204.17 L928.05,204.43 L931.1,204.63 L934.15,204.77 L937.2,204.86 L940.25,204.88 L943.3,204.86 L946.35,204.77 L949.4,204.63 L952.45,204.43 L955.5,204.17 L958.55,203.85 L961.6,203.47 L964.65,203.03 L967.7,202.52 L970.75,201.94 L973.8,201.29 L976.85,200.56 L979.9,199.76 L982.95,198.86 L986,197.88 L989.05,196.79 L992.1,195.58 L995.15,194.25 L998.2,192.77 L1001.25,191.12 L1004.3,189.25 L1007.35,187.12 L1010.4,184.63 L1013.45,181.62 Q1015.95,181.62 1015.95,187.62 L1015.95,185.64 Q1015.95,192.93 1010.45,197.71 L1007.52,200.05 L1004.6,202.06 L1001.67,203.83 L998.75,205.4 L995.83,206.82 L992.9,208.09 L989.98,209.25 L987.05,210.3 L984.12,211.26 L981.2,212.13 L978.27,212.92 L975.35,213.63 L972.42,214.28 L969.5,214.85 L966.58,215.37 L963.65,215.82 L960.73,216.22 L957.8,216.56 L954.88,216.84 L951.95,217.08 L949.02,217.25 L946.1,217.38 L943.17,217.46 L940.25,217.48 L937.33,217.46 L934.4,217.38 L931.48,217.25 L928.55,217.08 L925.62,216.84 L922.7,216.56 L919.77,216.22 L916.85,215.82 L913.92,215.37 L911,214.85 L908.08,214.28 L905.15,213.63 L902.23,212.92 L899.3,212.13 L896.38,211.26 L893.45,210.3 L890.52,209.25 L887.6,208.09 L884.67,206.82 L881.75,205.4 L878.83,203.83 L875.9,202.06 L872.98,200.05 L870.05,197.71 Q864.55,192.93 864.55,185.64 Z"/><path d="M864.55,203.28 Q864.55,197.28 867.05,197.28 L870.1,200.3 L873.15,202.78 L876.2,204.92 L879.25,206.78 L882.3,208.43 L885.35,209.92 L888.4,211.25 L891.45,212.45 L894.5,213.54 L897.55,214.53 L900.6,215.42 L903.65,216.23 L906.7,216.95 L909.75,217.6 L912.8,218.18 L915.85,218.69 L918.9,219.13 L921.95,219.51 L925,219.83 L928.05,220.09 L931.1,220.29 L934.15,220.43 L937.2,220.52 L940.25,220.55 L943.3,220.52 L946.35,220.43 L949.4,220.29 L952.45,220.09 L955.5,219.83 L958.55,219.51 L961.6,219.13 L964.65,218.69 L967.7,218.18 L970.75,217.6 L973.8,216.95 L976.85,216.23 L979.9,215.42 L982.95,214.53 L986,213.54 L989.05,212.45 L992.1,211.25 L995.15,209.92 L998.2,208.43 L1001.25,206.78 L1004.3,204.92 L1007.35,202.78 L1010.4,200.3 L1013.45,197.28 Q1015.95,197.28 1015.95,203.28 L1015.95,201.3 Q1015.95,208.59 1010.45,213.37 L1007.52,215.71 L1004.6,217.72 L1001.67,219.49 L998.75,221.07 L995.83,222.48 L992.9,223.76 L989.98,224.92 L987.05,225.97 L984.12,226.92 L981.2,227.79 L978.27,228.58 L975.35,229.3 L972.42,229.94 L969.5,230.52 L966.58,231.03 L963.65,231.49 L960.73,231.88 L957.8,232.22 L954.88,232.51 L951.95,232.74 L949.02,232.92 L946.1,233.05 L943.17,233.12 L940.25,233.15 L937.33,233.12 L934.4,233.05 L931.48,232.92 L928.55,232.74 L925.62,232.51 L922.7,232.22 L919.77,231.88 L916.85,231.49 L913.92,231.03 L911,230.52 L908.08,229.94 L905.15,229.3 L902.23,228.58 L899.3,227.79 L896.38,226.92 L893.45,225.97 L890.52,224.92 L887.6,223.76 L884.67,222.48 L881.75,221.07 L878.83,219.49 L875.9,217.72 L872.98,215.71 L870.05,213.37 Q864.55,208.59 864.55,201.3 Z"/><path d="M864.55,218.95 Q864.55,212.95 867.05,212.95 L870.1,215.96 L873.15,218.45 L876.2,220.58 L879.25,222.44 L882.3,224.1 L885.35,225.58 L888.4,226.91 L891.45,228.12 L894.5,229.21 L897.55,230.19 L900.6,231.08 L903.65,231.89 L906.7,232.62 L909.75,233.27 L912.8,233.84 L915.85,234.35 L918.9,234.8 L921.95,235.18 L925,235.5 L928.05,235.76 L931.1,235.96 L934.15,236.1 L937.2,236.18 L940.25,236.21 L943.3,236.18 L946.35,236.1 L949.4,235.96 L952.45,235.76 L955.5,235.5 L958.55,235.18 L961.6,234.8 L964.65,234.35 L967.7,233.84 L970.75,233.27 L973.8,232.62 L976.85,231.89 L979.9,231.08 L982.95,230.19 L986,229.21 L989.05,228.12 L992.1,226.91 L995.15,225.58 L998.2,224.1 L1001.25,222.44 L1004.3,220.58 L1007.35,218.45 L1010.4,215.96 L1013.45,212.95 Q1015.95,212.95 1015.95,218.95 L1015.95,216.97 Q1015.95,224.26 1010.45,229.04 L1007.52,231.38 L1004.6,233.39 L1001.67,235.16 L998.75,236.73 L995.83,238.15 L992.9,239.42 L989.98,240.58 L987.05,241.63 L984.12,242.59 L981.2,243.46 L978.27,244.25 L975.35,244.96 L972.42,245.6 L969.5,246.18 L966.58,246.7 L963.65,247.15 L960.73,247.55 L957.8,247.89 L954.88,248.17 L951.95,248.4 L949.02,248.58 L946.1,248.71 L943.17,248.79 L940.25,248.81 L937.33,248.79 L934.4,248.71 L931.48,248.58 L928.55,248.4 L925.62,248.17 L922.7,247.89 L919.77,247.55 L916.85,247.15 L913.92,246.7 L911,246.18 L908.08,245.6 L905.15,244.96 L902.23,244.25 L899.3,243.46 L896.38,242.59 L893.45,241.63 L890.52,240.58 L887.6,239.42 L884.67,238.15 L881.75,236.73 L878.83,235.16 L875.9,233.39 L872.98,231.38 L870.05,229.04 Q864.55,224.26 864.55,216.97 Z"/><path d="M864.55,234.61 Q864.55,228.61 867.05,228.61 L870.1,231.62 L873.15,234.11 L876.2,236.24 L879.25,238.11 L882.3,239.76 L885.35,241.24 L888.4,242.58 L891.45,243.78 L894.5,244.87 L897.55,245.86 L900.6,246.75 L903.65,247.56 L906.7,248.28 L909.75,248.93 L912.8,249.51 L915.85,250.02 L918.9,250.46 L921.95,250.84 L925,251.16 L928.05,251.42 L931.1,251.62 L934.15,251.76 L937.2,251.85 L940.25,251.88 L943.3,251.85 L946.35,251.76 L949.4,251.62 L952.45,251.42 L955.5,251.16 L958.55,250.84 L961.6,250.46 L964.65,250.02 L967.7,249.51 L970.75,248.93 L973.8,248.28 L976.85,247.56 L979.9,246.75 L982.95,245.86 L986,244.87 L989.05,243.78 L992.1,242.58 L995.15,241.24 L998.2,239.76 L1001.25,238.11 L1004.3,236.24 L1007.35,234.11 L1010.4,231.62 L1013.45,228.61 Q1015.95,228.61 1015.95,234.61 L1015.95,232.63 Q1015.95,239.92 1010.45,244.7 L1007.52,247.04 L1004.6,249.05 L1001.67,250.82 L998.75,252.4 L995.83,253.81 L992.9,255.09 L989.98,256.24 L987.05,257.3 L984.12,258.25 L981.2,259.12 L978.27,259.91 L975.35,260.62 L972.42,261.27 L969.5,261.84 L966.58,262.36 L963.65,262.81 L960.73,263.21 L957.8,263.55 L954.88,263.84 L951.95,264.07 L949.02,264.25 L946.1,264.37 L943.17,264.45 L940.25,264.48 L937.33,264.45 L934.4,264.37 L931.48,264.25 L928.55,264.07 L925.62,263.84 L922.7,263.55 L919.77,263.21 L916.85,262.81 L913.92,262.36 L911,261.84 L908.08,261.27 L905.15,260.62 L902.23,259.91 L899.3,259.12 L896.38,258.25 L893.45,257.3 L890.52,256.24 L887.6,255.09 L884.67,253.81 L881.75,252.4 L878.83,250.82 L875.9,249.05 L872.98,247.04 L870.05,244.7 Q864.55,239.92 864.55,232.63 Z"/><path d="M864.55,250.27 Q864.55,244.27 867.05,244.27 L870.1,247.29 L873.15,249.78 L876.2,251.91 L879.25,253.77 L882.3,255.43 L885.35,256.91 L888.4,258.24 L891.45,259.44 L894.5,260.53 L897.55,261.52 L900.6,262.41 L903.65,263.22 L906.7,263.94 L909.75,264.59 L912.8,265.17 L915.85,265.68 L918.9,266.13 L921.95,266.51 L925,266.82 L928.05,267.08 L931.1,267.28 L934.15,267.43 L937.2,267.51 L940.25,267.54 L943.3,267.51 L946.35,267.43 L949.4,267.28 L952.45,267.08 L955.5,266.82 L958.55,266.51 L961.6,266.13 L964.65,265.68 L967.7,265.17 L970.75,264.59 L973.8,263.94 L976.85,263.22 L979.9,262.41 L982.95,261.52 L986,260.53 L989.05,259.44 L992.1,258.24 L995.15,256.91 L998.2,255.43 L1001.25,253.77 L1004.3,251.91 L1007.35,249.78 L1010.4,247.29 L1013.45,244.27 Q1015.95,244.27 1015.95,250.27 L1015.95,248.3 Q1015.95,255.58 1010.45,260.36 L1007.52,262.7 L1004.6,264.72 L1001.67,266.49 L998.75,268.06 L995.83,269.47 L992.9,270.75 L989.98,271.91 L987.05,272.96 L984.12,273.92 L981.2,274.78 L978.27,275.57 L975.35,276.29 L972.42,276.93 L969.5,277.51 L966.58,278.02 L963.65,278.48 L960.73,278.87 L957.8,279.21 L954.88,279.5 L951.95,279.73 L949.02,279.91 L946.1,280.04 L943.17,280.11 L940.25,280.14 L937.33,280.11 L934.4,280.04 L931.48,279.91 L928.55,279.73 L925.62,279.5 L922.7,279.21 L919.77,278.87 L916.85,278.48 L913.92,278.02 L911,277.51 L908.08,276.93 L905.15,276.29 L902.23,275.57 L899.3,274.78 L896.38,273.92 L893.45,272.96 L890.52,271.91 L887.6,270.75 L884.67,269.47 L881.75,268.06 L878.83,266.49 L875.9,264.72 L872.98,262.7 L870.05,260.36 Q864.55,255.58 864.55,248.3 Z"/><path d="M864.55,265.94 Q864.55,259.94 867.05,259.94 L870.1,262.95 L873.15,265.44 L876.2,267.57 L879.25,269.44 L882.3,271.09 L885.35,272.57 L888.4,273.9 L891.45,275.11 L894.5,276.2 L897.55,277.18 L900.6,278.08 L903.65,278.88 L906.7,279.61 L909.75,280.26 L912.8,280.84 L915.85,281.35 L918.9,281.79 L921.95,282.17 L925,282.49 L928.05,282.75 L931.1,282.95 L934.15,283.09 L937.2,283.18 L940.25,283.2 L943.3,283.18 L946.35,283.09 L949.4,282.95 L952.45,282.75 L955.5,282.49 L958.55,282.17 L961.6,281.79 L964.65,281.35 L967.7,280.84 L970.75,280.26 L973.8,279.61 L976.85,278.88 L979.9,278.08 L982.95,277.18 L986,276.2 L989.05,275.11 L992.1,273.9 L995.15,272.57 L998.2,271.09 L1001.25,269.44 L1004.3,267.57 L1007.35,265.44 L1010.4,262.95 L1013.45,259.94 Q1015.95,259.94 1015.95,265.94 L1015.95,263.96 Q1015.95,271.25 1010.45,276.03 L1007.52,278.37 L1004.6,280.38 L1001.67,282.15 L998.75,283.72 L995.83,285.14 L992.9,286.41 L989.98,287.57 L987.05,288.62 L984.12,289.58 L981.2,290.45 L978.27,291.24 L975.35,291.95 L972.42,292.6 L969.5,293.17 L966.58,293.69 L963.65,294.14 L960.73,294.54 L957.8,294.88 L954.88,295.16 L951.95,295.4 L949.02,295.57 L946.1,295.7 L943.17,295.78 L940.25,295.8 L937.33,295.78 L934.4,295.7 L931.48,295.57 L928.55,295.4 L925.62,295.16 L922.7,294.88 L919.77,294.54 L916.85,294.14 L913.92,293.69 L911,293.17 L908.08,292.6 L905.15,291.95 L902.23,291.24 L899.3,290.45 L896.38,289.58 L893.45,288.62 L890.52,287.57 L887.6,286.41 L884.67,285.14 L881.75,283.72 L878.83,282.15 L875.9,280.38 L872.98,278.37 L870.05,276.03 Q864.55,271.25 864.55,263.96 Z"/><path d="M864.55,281.6 Q864.55,275.6 867.05,275.6 L870.1,278.62 L873.15,281.1 L876.2,283.24 L879.25,285.1 L882.3,286.75 L885.35,288.24 L888.4,289.57 L891.45,290.77 L894.5,291.86 L897.55,292.85 L900.6,293.74 L903.65,294.55 L906.7,295.27 L909.75,295.92 L912.8,296.5 L915.85,297.01 L918.9,297.45 L921.95,297.83 L925,298.15 L928.05,298.41 L931.1,298.61 L934.15,298.75 L937.2,298.84 L940.25,298.87 L943.3,298.84 L946.35,298.75 L949.4,298.61 L952.45,298.41 L955.5,298.15 L958.55,297.83 L961.6,297.45 L964.65,297.01 L967.7,296.5 L970.75,295.92 L973.8,295.27 L976.85,294.55 L979.9,293.74 L982.95,292.85 L986,291.86 L989.05,290.77 L992.1,289.57 L995.15,288.24 L998.2,286.75 L1001.25,285.1 L1004.3,283.24 L1007.35,281.1 L1010.4,278.62 L1013.45,275.6 Q1015.95,275.6 1015.95,281.6 L1015.95,279.62 Q1015.95,286.91 1010.45,291.69 L1007.52,294.03 L1004.6,296.04 L1001.67,297.81 L998.75,299.39 L995.83,300.8 L992.9,302.08 L989.98,303.24 L987.05,304.29 L984.12,305.24 L981.2,306.11 L978.27,306.9 L975.35,307.62 L972.42,308.26 L969.5,308.84 L966.58,309.35 L963.65,309.81 L960.73,310.2 L957.8,310.54 L954.88,310.83 L951.95,311.06 L949.02,311.24 L946.1,311.37 L943.17,311.44 L940.25,311.47 L937.33,311.44 L934.4,311.37 L931.48,311.24 L928.55,311.06 L925.62,310.83 L922.7,310.54 L919.77,310.2 L916.85,309.81 L913.92,309.35 L911,308.84 L908.08,308.26 L905.15,307.62 L902.23,306.9 L899.3,306.11 L896.38,305.24 L893.45,304.29 L890.52,303.24 L887.6,302.08 L884.67,300.8 L881.75,299.39 L878.83,297.81 L875.9,296.04 L872.98,294.03 L870.05,291.69 Q864.55,286.91 864.55,279.62 Z"/><path d="M864.55,297.27 Q864.55,291.27 867.05,291.27 L870.1,294.28 L873.15,296.77 L876.2,298.9 L879.25,300.76 L882.3,302.42 L885.35,303.9 L888.4,305.23 L891.45,306.44 L894.5,307.53 L897.55,308.51 L900.6,309.4 L903.65,310.21 L906.7,310.94 L909.75,311.59 L912.8,312.16 L915.85,312.67 L918.9,313.12 L921.95,313.5 L925,313.82 L928.05,314.08 L931.1,314.28 L934.15,314.42 L937.2,314.5 L940.25,314.53 L943.3,314.5 L946.35,314.42 L949.4,314.28 L952.45,314.08 L955.5,313.82 L958.55,313.5 L961.6,313.12 L964.65,312.67 L967.7,312.16 L970.75,311.59 L973.8,310.94 L976.85,310.21 L979.9,309.4 L982.95,308.51 L986,307.53 L989.05,306.44 L992.1,305.23 L995.15,303.9 L998.2,302.42 L1001.25,300.76 L1004.3,298.9 L1007.35,296.77 L1010.4,294.28 L1013.45,291.27 Q1015.95,291.27 1015.95,297.27 L1015.95,295.29 Q1015.95,302.58 1010.45,307.36 L1007.52,309.7 L1004.6,311.71 L1001.67,313.48 L998.75,315.05 L995.83,316.47 L992.9,317.74 L989.98,318.9 L987.05,319.95 L984.12,320.91 L981.2,321.78 L978.27,322.57 L975.35,323.28 L972.42,323.92 L969.5,324.5 L966.58,325.02 L963.65,325.47 L960.73,325.87 L957.8,326.21 L954.88,326.49 L951.95,326.72 L949.02,326.9 L946.1,327.03 L943.17,327.11 L940.25,327.13 L937.33,327.11 L934.4,327.03 L931.48,326.9 L928.55,326.72 L925.62,326.49 L922.7,326.21 L919.77,325.87 L916.85,325.47 L913.92,325.02 L911,324.5 L908.08,323.92 L905.15,323.28 L902.23,322.57 L899.3,321.78 L896.38,320.91 L893.45,319.95 L890.52,318.9 L887.6,317.74 L884.67,316.47 L881.75,315.05 L878.83,313.48 L875.9,311.71 L872.98,309.7 L870.05,307.36 Q864.55,302.58 864.55,295.29 Z"/><path d="M864.55,312.93 Q864.55,306.93 867.05,306.93 L870.1,309.94 L873.15,312.43 L876.2,314.56 L879.25,316.43 L882.3,318.08 L885.35,319.56 L888.4,320.9 L891.45,322.1 L894.5,323.19 L897.55,324.18 L900.6,325.07 L903.65,325.88 L906.7,326.6 L909.75,327.25 L912.8,327.83 L915.85,328.34 L918.9,328.78 L921.95,329.16 L925,329.48 L928.05,329.74 L931.1,329.94 L934.15,330.08 L937.2,330.17 L940.25,330.2 L943.3,330.17 L946.35,330.08 L949.4,329.94 L952.45,329.74 L955.5,329.48 L958.55,329.16 L961.6,328.78 L964.65,328.34 L967.7,327.83 L970.75,327.25 L973.8,326.6 L976.85,325.88 L979.9,325.07 L982.95,324.18 L986,323.19 L989.05,322.1 L992.1,320.9 L995.15,319.56 L998.2,318.08 L1001.25,316.43 L1004.3,314.56 L1007.35,312.43 L1010.4,309.94 L1013.45,306.93 Q1015.95,306.93 1015.95,312.93 L1015.95,310.95 Q1015.95,318.24 1010.45,323.02 L1007.52,325.36 L1004.6,327.37 L1001.67,329.14 L998.75,330.72 L995.83,332.13 L992.9,333.41 L989.98,334.56 L987.05,335.62 L984.12,336.57 L981.2,337.44 L978.27,338.23 L975.35,338.94 L972.42,339.59 L969.5,340.16 L966.58,340.68 L963.65,341.13 L960.73,341.53 L957.8,341.87 L954.88,342.16 L951.95,342.39 L949.02,342.57 L946.1,342.69 L943.17,342.77 L940.25,342.8 L937.33,342.77 L934.4,342.69 L931.48,342.57 L928.55,342.39 L925.62,342.16 L922.7,341.87 L919.77,341.53 L916.85,341.13 L913.92,340.68 L911,340.16 L908.08,339.59 L905.15,338.94 L902.23,338.23 L899.3,337.44 L896.38,336.57 L893.45,335.62 L890.52,334.56 L887.6,333.41 L884.67,332.13 L881.75,330.72 L878.83,329.14 L875.9,327.37 L872.98,325.36 L870.05,323.02 Q864.55,318.24 864.55,310.95 Z"/><ellipse cx="940.25" cy="65.3" rx="73.8" ry="24.3"/></g>
<g class="bits"><text x="940.25" y="106.45">1111</text><text x="940.25" y="122.13">1110</text><text x="940.25" y="137.81">1101</text><text x="940.25" y="153.49">1100</text><text x="940.25" y="169.17">1011</text><text x="940.25" y="184.85">1010</text><text x="940.25" y="200.53">1001</text><text x="940.25" y="216.21">1000</text><text x="940.25" y="231.89">0111</text><text x="940.25" y="247.57">0110</text><text x="940.25" y="263.25">0101</text><text x="940.25" y="278.93">0100</text><text x="940.25" y="294.61">0011</text><text x="940.25" y="310.29">0010</text><text x="940.25" y="325.97">0001</text><text x="940.25" y="341.65">0000</text></g>
<text class="l1" x="105.7" y="375.7">1 Bit Per Cell</text>
<text class="l2" x="106" y="396">First SSD NAND technology</text>
<text class="l3" x="106" y="441.8">100K P/E Cycles</text>
<text class="l1" x="383.7" y="375.7">2 Bits Per Cell</text>
<text class="l2" x="384" y="396">100% increase</text>
<text class="l3" x="384" y="441.8">10K P/E Cycles</text>
<text class="l1" x="661.7" y="375.7">3 Bits Per Cell</text>
<text class="l2" x="662" y="396">50% increase</text>
<text class="l3" x="662" y="441.8">3K P/E Cycles</text>
<text class="l1" x="939.95" y="375.7">4 Bits Per Cell</text>
<text class="l2" x="940.25" y="396">33% increase</text>
<text class="l3" x="940.25" y="441.8">1K P/E Cycles</text>
<text class="t" transform="translate(67.71,31.2) scale(0.9743,1)">S</text>
<text class="t" transform="translate(93.1,31.2) scale(0.9517,1)">L</text>
<text class="t" transform="translate(115.31,31.2) scale(0.9855,1)">C</text>
<text class="t" transform="translate(340.45,31.2) scale(1.0769,1)">M</text>
<text class="t" transform="translate(376.07,31.2) scale(0.9655,1)">L</text>
<text class="t" transform="translate(398.51,31.2) scale(0.9927,1)">C</text>
<text class="t" transform="translate(624.54,31.2) scale(0.9657,1)">T</text>
<text class="t" transform="translate(648.1,31.2) scale(0.9517,1)">L</text>
<text class="t" transform="translate(670.4,31.2) scale(0.9964,1)">C</text>
<text class="t" transform="translate(899.31,31.2) scale(0.9897,1)">Q</text>
<text class="t" transform="translate(929.59,31.2) scale(0.9563,1)">L</text>
<text class="t" transform="translate(952.01,31.2) scale(0.9927,1)">C</text>
<text class="l4" x="106" y="458.4">(at technology introduction)</text>
</svg>
</body></html>
